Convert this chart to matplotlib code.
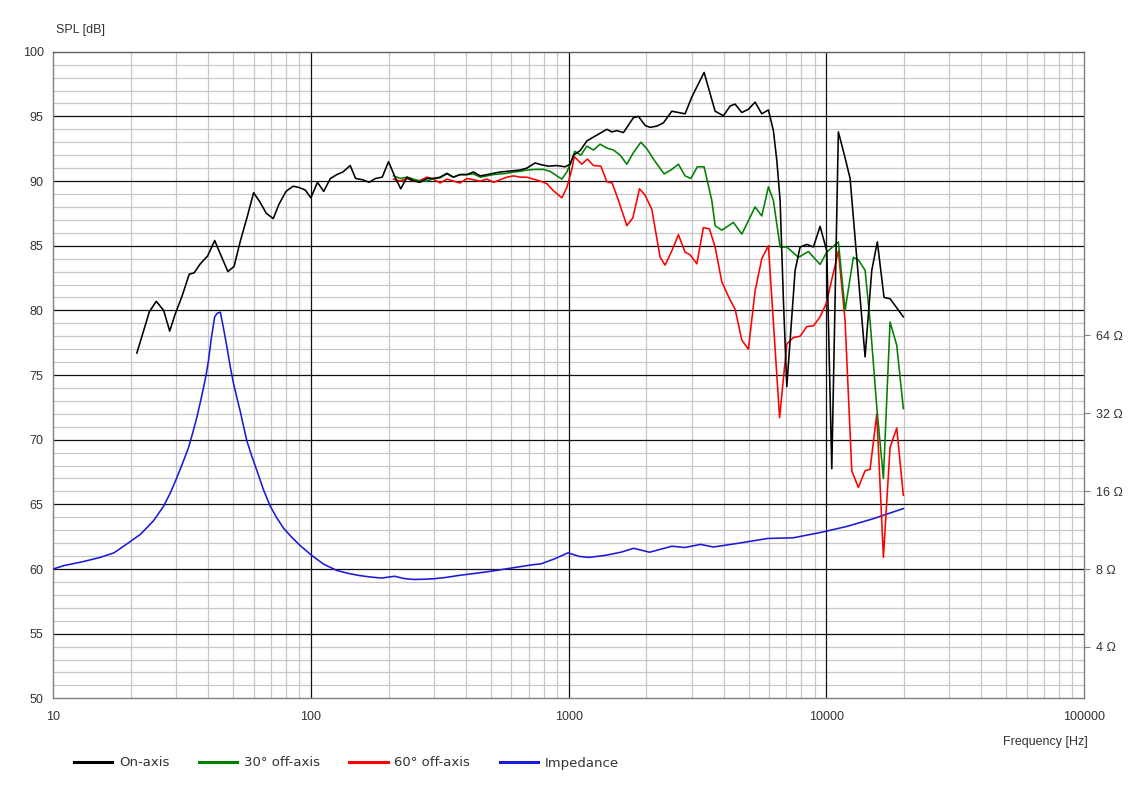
import numpy as np
import matplotlib
matplotlib.use("Agg")
import matplotlib.pyplot as plt
from matplotlib.ticker import FixedLocator, MultipleLocator, LogLocator, NullFormatter
from matplotlib.lines import Line2D

# ── data ─────────────────────────────────────────────────────────────────────

on_freq = [21.1, 23.6, 25.1, 26.8, 28.3, 29.7, 31.6, 33.7, 35.2, 37.2, 39.7, 42.3,
           44.4, 47.6, 50.3, 53.1, 56.5, 59.9, 63.3, 67.1, 71.4, 75.1, 80.0, 85.2,
           90.0, 95.1, 99.9, 106, 112, 119, 126, 133, 142, 149, 159, 168, 178, 189,
           200, 212, 223, 236, 250, 265, 282, 299, 317, 337, 357, 379, 403, 427,
           454, 482, 511, 542, 576, 611, 648, 688, 741, 787, 835, 900, 969, 1013,
           1044, 1108, 1177, 1248, 1325, 1407, 1471, 1538, 1632, 1784, 1866, 1981,
           2071, 2199, 2333, 2514, 2667, 2831, 3006, 3355, 3702, 3987, 4233, 4426,
           4699, 4985, 5291, 5617, 5960, 6231, 6424, 6617, 6815, 7025, 7567, 7912,
           8401, 8909, 9458, 10041, 10500, 11137, 11825, 12366, 14140, 15011,
           15778, 16750, 17672, 19905]
on_spl = [76.7, 79.9, 80.7, 80.0, 78.4, 79.7, 81.1, 82.8, 82.9, 83.6, 84.2, 85.4,
          84.4, 83.0, 83.4, 85.3, 87.2, 89.1, 88.4, 87.5, 87.1, 88.2, 89.2, 89.6,
          89.5, 89.3, 88.7, 89.9, 89.2, 90.2, 90.5, 90.7, 91.2, 90.2, 90.1, 89.9,
          90.2, 90.3, 91.5, 90.3, 89.4, 90.3, 90.0, 89.9, 90.2, 90.2, 90.3, 90.6,
          90.3, 90.5, 90.5, 90.7, 90.4, 90.5, 90.6, 90.7, 90.75, 90.8, 90.85, 91.0,
          91.4, 91.25, 91.15, 91.2, 91.1, 91.3, 92.0, 92.35, 93.1, 93.4, 93.7, 94.0,
          93.8, 93.9, 93.75, 94.9, 95.0, 94.3, 94.15, 94.25, 94.5, 95.4, 95.3, 95.2,
          96.5, 98.4, 95.4, 95.05, 95.8, 95.95, 95.3, 95.55, 96.1, 95.2, 95.5, 93.9,
          91.6, 88.5, 80.8, 74.1, 83.1, 84.9, 85.1, 84.9, 86.5, 84.6, 67.75, 93.8,
          91.8, 90.2, 76.4, 83.1, 85.3, 81.0, 80.9, 79.5]

off30_freq = [209, 222, 236, 250, 265, 282, 299, 317, 337, 357, 379, 403, 427, 454,
              482, 511, 542, 576, 611, 648, 688, 741, 798, 848, 900, 941, 984, 1029,
              1055, 1115, 1177, 1248, 1325, 1407, 1492, 1585, 1682, 1784, 1906, 2011,
              2133, 2347, 2514, 2667, 2831, 2979, 3160, 3355, 3594, 3702, 3930, 4359,
              4699, 5061, 5291, 5617, 5960, 6231, 6617, 7025, 7793, 8521, 9458,
              10041, 11137, 11825, 12733, 13315, 14140, 14783, 15700, 16654, 17672,
              18764, 19905]
off30_spl = [90.4, 90.2, 90.3, 90.15, 90.0, 90.0, 90.2, 90.25, 90.55, 90.3, 90.5,
             90.5, 90.55, 90.3, 90.4, 90.5, 90.55, 90.6, 90.7, 90.75, 90.85, 90.9,
             90.9, 90.75, 90.4, 90.15, 90.7, 91.6, 92.3, 92.0, 92.7, 92.4, 92.85,
             92.55, 92.4, 92.0, 91.3, 92.2, 93.0, 92.5, 91.7, 90.55, 90.9, 91.3, 90.4,
             90.2, 91.1, 91.1, 88.5, 86.55, 86.2, 86.8, 85.9, 87.2, 88.0, 87.3, 89.55,
             88.5, 84.9, 84.9, 84.1, 84.55, 83.55, 84.5, 85.3, 80.0, 84.1, 83.9, 83.1,
             79.2, 72.5, 67.0, 79.1, 77.3, 72.4]

off60_freq = [209, 222, 236, 250, 265, 282, 299, 317, 337, 357, 379, 403, 427, 454,
              482, 511, 542, 576, 611, 648, 688, 730, 775, 823, 873, 941, 984, 1029,
              1051, 1125, 1183, 1248, 1333, 1407, 1475, 1561, 1682, 1775, 1883, 1981,
              2103, 2265, 2368, 2514, 2667, 2831, 2960, 3144, 3334, 3518, 3702, 3930,
              4233, 4426, 4699, 4985, 5291, 5617, 5960, 6587, 7025, 7451, 7912, 8401,
              8909, 9458, 9977, 10340, 11137, 11825, 12555, 13315, 14140, 14783,
              15700, 16654, 17672, 18764, 19905]
off60_spl = [90.15, 90.0, 90.2, 90.0, 90.05, 90.3, 90.15, 89.85, 90.15, 90.0, 89.85,
             90.2, 90.1, 90.0, 90.15, 89.9, 90.1, 90.3, 90.4, 90.3, 90.3, 90.15, 90.0,
             89.8, 89.25, 88.7, 89.5, 90.9, 91.9, 91.3, 91.7, 91.2, 91.15, 89.95,
             89.85, 88.5, 86.55, 87.15, 89.4, 88.9, 87.8, 84.1, 83.5, 84.6, 85.85,
             84.5, 84.3, 83.6, 86.4, 86.3, 84.9, 82.2, 80.8, 80.1, 77.7, 77.0, 81.5,
             84.0, 85.0, 71.7, 77.4, 77.9, 78.0, 78.75, 78.8, 79.5, 80.5, 81.8, 84.6,
             79.2, 67.6, 66.3, 67.6, 67.7, 72.0, 60.9, 69.4, 70.9, 65.7]

imp_freq = [10, 11.0, 12.9, 15.2, 17.2, 19.3, 21.8, 24.5, 26.8, 28.5, 30.2, 31.8,
            33.5, 34.8, 36.1, 37.2, 38.3, 39.2, 40.0, 41.0, 42.3, 43.3, 44.5, 45.8,
            47.2, 48.6, 50.1, 51.6, 53.1, 54.7, 56.4, 58.9, 61.7, 65.4, 69.5, 73.7,
            78.3, 84.3, 90.9, 100.7, 112, 126, 139, 154, 170, 188, 211, 230, 250,
            270, 297, 333, 373, 445, 525, 590, 660, 720, 782, 880, 995, 1100, 1200,
            1383, 1596, 1787, 2062, 2517, 2821, 3253, 3647, 4580, 5916, 7430, 9600,
            12060, 15140, 19900]
imp_ohm = [8.0, 8.25, 8.52, 8.87, 9.24, 10.0, 10.9, 12.3, 14.0, 15.8, 18.1, 20.6,
           23.6, 27.0, 31.0, 35.3, 40.3, 45.2, 51.0, 62.0, 75.6, 78.0, 78.7, 68.0,
           57.6, 48.5, 41.5, 36.7, 32.7, 28.6, 25.0, 21.9, 19.2, 16.2, 14.0, 12.6,
           11.5, 10.6, 9.85, 9.03, 8.35, 7.9, 7.7, 7.55, 7.45, 7.38, 7.5, 7.35, 7.29,
           7.3, 7.33, 7.42, 7.55, 7.72, 7.9, 8.05, 8.19, 8.3, 8.38, 8.75, 9.24, 8.95,
           8.87, 9.03, 9.29, 9.62, 9.29, 9.8, 9.69, 9.96, 9.73, 10.07, 10.5, 10.56,
           11.1, 11.7, 12.5, 13.7]

spl_ticks = [50, 55, 60, 65, 70, 75, 80, 85, 90, 95, 100]
freq_ticks = [10, 100, 1000, 10000, 100000]
ohm_ticks = [4, 8, 16, 32, 64]


# impedance is drawn on the SPL grid: 8 ohm sits on 60 dB, 6 dB per doubling
def ohm_to_db(z):
    return 60 + 20 * np.log10(np.asarray(z, dtype=float) / 8.0)


TEXT = "#333333"
FONT = "Liberation Sans"

fig = plt.figure(figsize=(11.35, 7.97), dpi=100)
ax = fig.add_axes([0.04696, 0.1238, 0.9081, 0.8113])

ax.set_xscale("log")
ax.set_xlim(10, 100000)
ax.set_ylim(50, 100)

# light grid from the axis, dark major lines drawn on top of it
ax.yaxis.set_major_locator(FixedLocator(spl_ticks))
ax.yaxis.set_minor_locator(MultipleLocator(1))
ax.xaxis.set_major_locator(FixedLocator(freq_ticks))
ax.xaxis.set_minor_locator(LogLocator(base=10, subs=np.arange(2, 10)))
ax.xaxis.set_minor_formatter(NullFormatter())
ax.grid(which="minor", color="#c8c8c8", linewidth=0.9)
ax.grid(which="major", visible=False)
ax.set_axisbelow(True)
for t in spl_ticks[1:-1]:
    ax.axhline(t, color="#101010", lw=0.9, zorder=1.5)
for t in freq_ticks[1:-1]:
    ax.axvline(t, color="#101010", lw=0.9, zorder=1.5)

ax.set_xticklabels([str(t) for t in freq_ticks])
ax.tick_params(which="both", length=0)
ax.tick_params(axis="y", pad=7, labelsize=9, labelcolor=TEXT)
ax.tick_params(axis="x", pad=9, labelsize=9, labelcolor=TEXT)
for lbl in ax.get_xticklabels() + ax.get_yticklabels():
    lbl.set_fontfamily(FONT)

for sp in ax.spines.values():
    sp.set_color("#808080")
    sp.set_linewidth(1.0)
ax.spines["top"].set_color("#606060")

lw = 1.15
ax.plot(imp_freq, ohm_to_db(imp_ohm), color="#1a1ad8", lw=lw, zorder=3)
ax.plot(off60_freq, off60_spl, color="#ff0000", lw=lw, zorder=4)
ax.plot(off30_freq, off30_spl, color="#008000", lw=lw, zorder=5)
ax.plot(on_freq, on_spl, color="#000000", lw=lw, zorder=6)

# right axis: impedance labels
rax = ax.twinx()
rax.set_ylim(50, 100)
rax.set_yticks(ohm_to_db(ohm_ticks))
rax.set_yticklabels([f"{z} Ω" for z in ohm_ticks], fontfamily=FONT)
rax.tick_params(axis="y", length=4, width=0.8, color="#808080", pad=5,
                labelsize=9, labelcolor=TEXT)
for sp in rax.spines.values():
    sp.set_visible(False)

fig.text(56.5 / 1135, 1 - 30 / 797, "SPL [dB]", fontsize=9, color=TEXT,
         fontfamily=FONT, ha="left", va="center")
fig.text(1088 / 1135, 1 - 742 / 797, "Frequency [Hz]", fontsize=9, color=TEXT,
         fontfamily=FONT, ha="right", va="center")

handles = [Line2D([], [], color="#000000", lw=2.2),
           Line2D([], [], color="#008000", lw=2.2),
           Line2D([], [], color="#ff0000", lw=2.2),
           Line2D([], [], color="#1a1ad8", lw=2.2)]
labels = ["On-axis", "30° off-axis", "60° off-axis", "Impedance"]
leg = fig.legend(handles, labels, loc="center left",
                 bbox_to_anchor=(74 / 1135, 1 - 763 / 797), ncol=4,
                 frameon=False, fontsize=9.5, handlelength=2.9,
                 handletextpad=0.5, columnspacing=2.25, borderpad=0,
                 borderaxespad=0)
for t in leg.get_texts():
    t.set_color(TEXT)
    t.set_fontfamily("DejaVu Sans")

fig.savefig("out.png", dpi=100)
